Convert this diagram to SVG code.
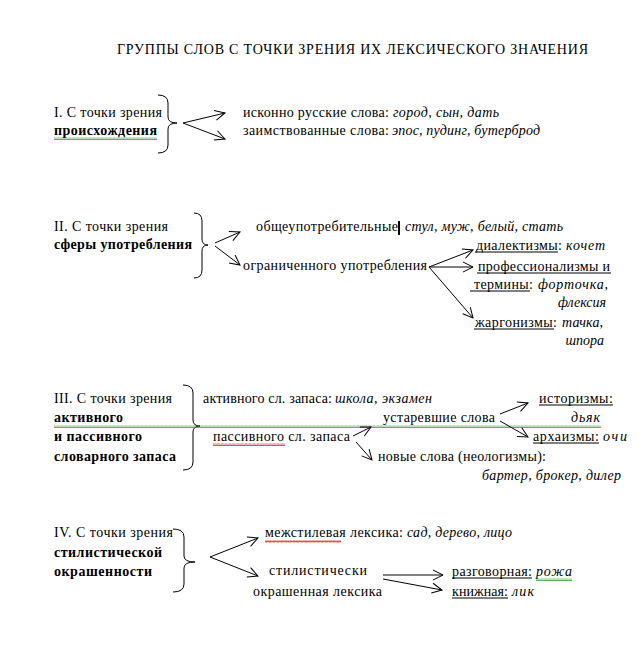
<svg xmlns="http://www.w3.org/2000/svg" width="644" height="645" viewBox="0 0 644 645">
<style>
text{font-family:"Liberation Serif","DejaVu Serif",serif;font-size:14px;fill:#000}
.b{font-weight:bold}
.i{font-style:italic}
.br{fill:none;stroke:#000;stroke-width:1}
.c line{stroke:#000;stroke-width:1;fill:none;marker-end:url(#ah)}
.u{stroke:#000;stroke-width:1}
</style>
<defs>
<marker id="ah" markerUnits="userSpaceOnUse" markerWidth="12" markerHeight="12" refX="10" refY="5" orient="auto" overflow="visible">
<path d="M0,0 L10,5 L0,10" fill="none" stroke="#000" stroke-width="1"/>
</marker>
<pattern id="wg" width="4" height="3" patternUnits="userSpaceOnUse"><path d="M0,2.5 L1,0.5 L2,2.5 L3,0.5 L4,2.5" fill="none" stroke="#3a9a3a" stroke-width="0.8"/></pattern>
<pattern id="wr" width="4" height="3" patternUnits="userSpaceOnUse"><path d="M0,2.5 L1,0.5 L2,2.5 L3,0.5 L4,2.5" fill="none" stroke="#e02020" stroke-width="0.8"/></pattern>
</defs>
<rect width="644" height="645" fill="#fff"/>
<text id="title" x="117" y="54" textLength="471" lengthAdjust="spacing">ГРУППЫ СЛОВ С ТОЧКИ ЗРЕНИЯ ИХ ЛЕКСИЧЕСКОГО ЗНАЧЕНИЯ</text>

<g id="s1">
<text x="54" y="117" textLength="108">I. С точки зрения</text>
<text class="b" x="54" y="135" textLength="103">происхождения</text>
<rect x="54" y="137" width="103" height="3" fill="url(#wg)"/>
<path class="br" d="M158,95 Q168,95 168,103 L168,117 Q168,123 177,123 Q168,123 168,129 L168,145 Q168,153 158,153"/>
</g>
<g id="s1a"><text x="243" y="117" textLength="146">исконно русские слова:</text><text class="i" x="393" y="117" textLength="106">город, сын, дать</text></g>
<g id="s1b"><text x="243" y="135" textLength="146">заимствованные слова:</text><text class="i" x="392" y="135" textLength="148">эпос, пудинг, бутерброд</text></g>

<g id="s2">
<text x="54" y="231" textLength="114">II. С точки зрения</text>
<text class="b" x="54" y="249" textLength="138">сферы употребления</text>
<path class="br" d="M194,213 Q202,213 202,221 L202,239 Q202,245 208,245 Q202,245 202,251 L202,270 Q202,278 194,278"/>
</g>
<g id="s2a"><text x="256" y="231" textLength="142">общеупотребительные</text><rect x="398" y="221" width="2" height="14" fill="#000"/><text class="i" x="405" y="231" textLength="158">стул, муж, белый, стать</text></g>
<g id="s2b"><text x="243" y="270" textLength="184">ограниченного употребления</text></g>
<g id="s2b1"><text x="476" y="250" textLength="86">диалектизмы:</text><line class="u" x1="475" y1="252" x2="558" y2="252"/><text class="i" x="566" y="250" textLength="39">кочет</text></g>
<g id="s2b2"><text x="478" y="271" textLength="132">профессионализмы и</text><line class="u" x1="477" y1="273" x2="611" y2="273"/>
<text x="474" y="289" textLength="59">термины:</text><line class="u" x1="470" y1="291" x2="530" y2="291"/><text class="i" x="538" y="289" textLength="70">форточка,</text>
<text class="i" x="606" y="307" text-anchor="end">флексия</text></g>
<g id="s2b3"><text x="475" y="327" textLength="82">жаргонизмы:</text><line class="u" x1="474" y1="329" x2="554" y2="329"/><text class="i" x="562" y="327" textLength="41">тачка,</text>
<text class="i" x="604" y="345" text-anchor="end">шпора</text></g>

<g id="s3">
<text x="54" y="403" textLength="118">III. С точки зрения</text>
<text class="b" x="54" y="422" textLength="69">активного</text>
<text class="b" x="54" y="441" textLength="88">и пассивного</text>
<text class="b" x="54" y="461" textLength="122">словарного запаса</text>
<path class="br" d="M183,385 Q193,385 193,393 L193,420 Q193,426 200,426 Q193,426 193,432 L193,462 Q193,470 183,470"/>
</g>
<rect x="54" y="425" width="547" height="3" fill="url(#wg)"/>
<g id="s3a"><text x="203" y="403" textLength="129">активного сл. запаса:</text><text class="i" x="335" y="403" textLength="97">школа, экзамен</text></g>
<g id="s3b"><text x="213" y="441" textLength="137">пассивного сл. запаса</text><rect x="213" y="443" width="72" height="3" fill="url(#wr)"/></g>
<g id="s3b1"><text x="383" y="422" textLength="112">устаревшие слова</text></g>
<g id="s3b2"><text x="378" y="461" textLength="168">новые слова (неологизмы):</text><text class="i" x="482" y="480" textLength="139">бартер, брокер, дилер</text></g>
<g id="s3b1a"><text x="539" y="403" textLength="74">историзмы:</text><line class="u" x1="539" y1="405" x2="613" y2="405"/><text class="i" x="571" y="422" textLength="29">дьяк</text></g>
<g id="s3b1b"><text x="533" y="441" textLength="66">архаизмы:</text><line class="u" x1="533" y1="443" x2="599" y2="443"/><text class="i" x="603" y="441" textLength="24">очи</text></g>

<g id="s4">
<text x="54" y="537" textLength="119">IV. С точки зрения</text>
<text class="b" x="54" y="557" textLength="108">стилистической</text>
<text class="b" x="54" y="576" textLength="98">окрашенности</text>
<path class="br" d="M173,529 Q184,529 184,537 L184,556 Q184,562 195,562 Q184,562 184,568 L184,584 Q184,592 173,592"/>
</g>
<g id="s4a"><text x="265" y="537" textLength="138">межстилевая лексика:</text><rect x="265" y="540" width="76" height="3" fill="url(#wr)"/><text class="i" x="407" y="537" textLength="105">сад, дерево, лицо</text></g>
<g id="s4b"><text x="269" y="575" textLength="98">стилистически</text><text x="253" y="596" textLength="129">окрашенная лексика</text></g>
<g id="s4b1"><text x="452" y="576" textLength="80">разговорная:</text><line class="u" x1="452" y1="578" x2="532" y2="578"/><text class="i" x="536" y="576" textLength="36">рожа</text><rect x="536" y="578" width="36" height="3" fill="url(#wg)"/></g>
<g id="s4b2"><text x="452" y="596" textLength="56">книжная:</text><line class="u" x1="452" y1="598" x2="508" y2="598"/><text class="i" x="512" y="596" textLength="22">лик</text></g>

<g id="connectors" class="c">
<line x1="183" y1="123" x2="225" y2="113"/>
<line x1="183" y1="123" x2="225" y2="139"/>
<line x1="215" y1="243" x2="240" y2="232"/>
<line x1="215" y1="246" x2="240" y2="265"/>
<line x1="429" y1="267" x2="473" y2="250"/>
<line x1="429" y1="267" x2="473" y2="267"/>
<line x1="429" y1="267" x2="473" y2="318"/>
<line x1="353" y1="436" x2="371" y2="427"/>
<line x1="356" y1="442" x2="372" y2="460"/>
<line x1="500" y1="414" x2="528" y2="403"/>
<line x1="500" y1="421" x2="528" y2="437"/>
<line x1="210" y1="557" x2="258" y2="538"/>
<line x1="210" y1="557" x2="258" y2="576"/>
<line x1="383" y1="575" x2="443" y2="575"/>
<line x1="383" y1="579" x2="442" y2="590"/>
</g>
</svg>
